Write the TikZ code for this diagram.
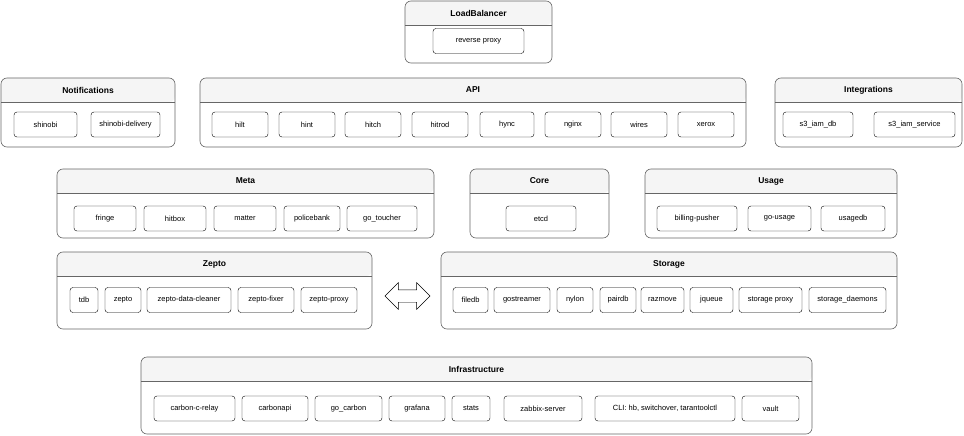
\documentclass[tikz,border=0pt]{standalone}
\usepackage{fontspec}
\setmainfont{Liberation Sans}
\usetikzlibrary{shapes.arrows}
\definecolor{headgray}{HTML}{F5F5F5}
\definecolor{linegray}{HTML}{666666}
\tikzset{
  svc/.style={draw, rounded corners=3pt, inner sep=0pt, minimum height=25pt, font=\fontsize{7.5}{8}\selectfont},
  grp/.style={draw=linegray, rounded corners=6pt, line width=0.6pt},
  grptitle/.style={font=\bfseries\fontsize{8.5}{10}\selectfont, inner sep=0pt},
}
% \grp{name}{x1}{y1}{x2}{y2}{title}
\newcommand{\grp}[6]{%
  \fill[headgray, rounded corners=6pt] (#2,#3+24) -- (#2,#3) -- (#4,#3) -- (#4,#3+24) [sharp corners] -- cycle;
  \draw[linegray, line width=0.6pt] (#2,#3+24) -- (#4,#3+24);
  \draw[grp] (#2,#3) rectangle (#4,#5);
  \node[grptitle] (#1) at ({(#2+#4)/2},#3+12) {#6};}
% \svcbox{name}{x1}{x2}{yc}{text}
\newcommand{\svcbox}[5]{%
  \node[svc, minimum width={#3-#2}] (#1) at ({(#2+#3)/2},#4) {#5};}

\begin{document}
\begin{tikzpicture}[x=1pt,y=-1pt]
\useasboundingbox (0,0) rectangle (964,436);

% top row
\grp{lb}{405}{1}{552}{63}{LoadBalancer}
\svcbox{rproxy}{433}{524}{41}{reverse proxy}

\grp{notif}{1}{78}{175}{147}{Notifications}
\svcbox{shinobi}{14}{77}{124.5}{shinobi}
\svcbox{shinobidel}{91}{160}{124.5}{shinobi-delivery}

\grp{api}{200}{78}{746}{147}{API}
\svcbox{hilt}{212}{268}{124.5}{hilt}
\svcbox{hint}{279}{335}{124.5}{hint}
\svcbox{hitch}{345}{401}{124.5}{hitch}
\svcbox{hitrod}{412}{468}{124.5}{hitrod}
\svcbox{hync}{480}{534}{124.5}{hync}
\svcbox{nginx}{545}{601}{124.5}{nginx}
\svcbox{wires}{611}{667}{124.5}{wires}
\svcbox{xerox}{678}{734}{124.5}{xerox}

\grp{integ}{775}{78}{962}{147}{Integrations}
\svcbox{iamdb}{783}{853}{124.5}{s3\_iam\_db}
\svcbox{iamsvc}{874}{955}{124.5}{s3\_iam\_service}

% middle row
\grp{meta}{57}{169}{434}{238}{Meta}
\svcbox{fringe}{74}{136}{218.5}{fringe}
\svcbox{hitbox}{144}{206}{218.5}{hitbox}
\svcbox{matter}{214}{276}{218.5}{matter}
\svcbox{policebank}{284}{340}{218.5}{policebank}
\svcbox{gotoucher}{347}{417}{218.5}{go\_toucher}

\grp{core}{470}{169}{609}{238}{Core}
\svcbox{etcd}{506}{576}{218.5}{etcd}

\grp{usage}{645}{169}{897}{238}{Usage}
\svcbox{billing}{657}{737}{218.5}{billing-pusher}
\svcbox{gousage}{748}{811}{218.5}{go-usage}
\svcbox{usagedb}{821}{885}{218.5}{usagedb}

% zepto <-> storage
\grp{zepto}{57}{252}{372}{329}{Zepto}
\svcbox{tdb}{70}{98}{300}{tdb}
\svcbox{zeptosvc}{105}{141}{300}{zepto}
\svcbox{cleaner}{147}{231}{300}{zepto-data-cleaner}
\svcbox{fixer}{238}{294}{300}{zepto-fixer}
\svcbox{zproxy}{301}{357}{300}{zepto-proxy}

\node[double arrow, draw, fill=white, minimum width=24pt, minimum height=45pt,
  double arrow tip angle=90, inner xsep=0pt, inner ysep=6pt] (link) at (407.5,296) {};

\grp{storage}{441}{252}{897}{329}{Storage}
\svcbox{filedb}{453}{488}{300}{filedb}
\svcbox{gostreamer}{494}{550}{300}{gostreamer}
\svcbox{nylon}{557}{593}{300}{nylon}
\svcbox{pairdb}{600}{636}{300}{pairdb}
\svcbox{razmove}{641}{684}{300}{razmove}
\svcbox{jqueue}{690}{733}{300}{jqueue}
\svcbox{sproxy}{739}{802}{300}{storage proxy}
\svcbox{sdaemons}{809}{886}{300}{storage\_daemons}

% bottom
\grp{infra}{141}{357}{812}{434}{Infrastructure}
\svcbox{relay}{154}{235}{408.5}{carbon-c-relay}
\svcbox{carbonapi}{242}{308}{408.5}{carbonapi}
\svcbox{gocarbon}{315}{382}{408.5}{go\_carbon}
\svcbox{grafana}{389}{445}{408.5}{grafana}
\svcbox{stats}{452}{490}{408.5}{stats}
\svcbox{zabbix}{504}{582}{408.5}{zabbix-server}
\svcbox{cli}{595}{735}{408.5}{CLI: hb, switchover, tarantoolctl}
\svcbox{vault}{742}{799}{408.5}{vault}
\end{tikzpicture}
\end{document}
